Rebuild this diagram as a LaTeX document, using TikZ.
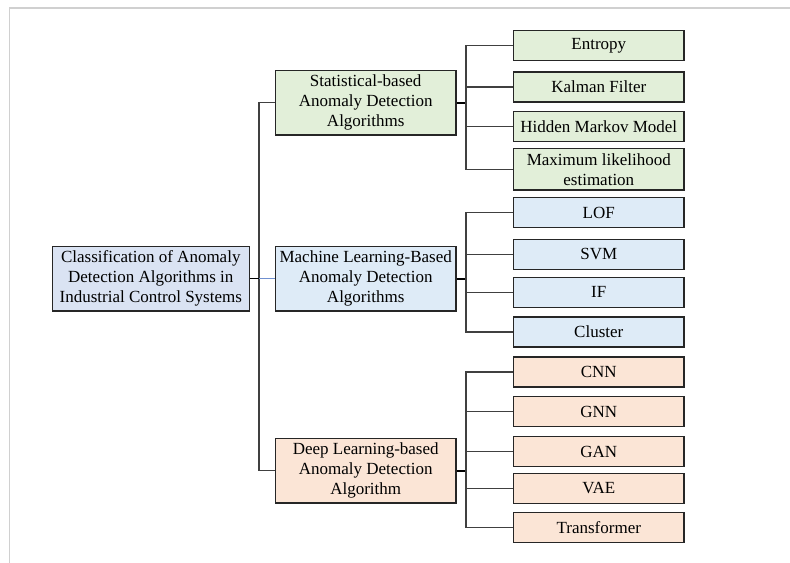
\documentclass[tikz,border=0pt]{standalone}
\usepackage{fontspec}
\setmainfont{Liberation Serif}
\definecolor{statfill}{HTML}{E2EFD9}
\definecolor{mlfill}{HTML}{DEEBF7}
\definecolor{rootfill}{HTML}{DAE3F3}
\definecolor{dlfill}{HTML}{FBE5D6}
\definecolor{edge}{HTML}{404040}
\definecolor{mllink}{HTML}{7090D0}
\definecolor{frame}{HTML}{D0D0D0}
\tikzset{
  box/.style={draw=black!85, line width=0.9pt, align=center, inner sep=0pt,
    font=\fontsize{12.75pt}{15pt}\selectfont},
  rootbox/.style={box, fill=rootfill, minimum width=147.75pt, minimum height=48.2pt},
  midbox/.style={box, minimum width=135.5pt, minimum height=48.2pt},
  leafbox/.style={box, minimum width=127.7pt, minimum height=22.4pt},
  link/.style={draw=edge, line width=0.8pt},
  stub/.style={draw=black, line width=1.3pt},
}
\begin{document}
\begin{tikzpicture}[x=0.75pt,y=-0.75pt]
\useasboundingbox (0,0) rectangle (790,563);
% page frame (top and left edges only)
\draw[frame, line width=1.1pt] (9.5,563) -- (9.5,8) -- (790,8);

% trunk positions
\coordinate (t0) at (259,0);
\coordinate (t1) at (466,0);

% root
\node[rootbox] (root) at (150.8,278.8) {Classification of Anomaly\\Detection Algorithms in\\Industrial Control Systems};

% second level
\node[midbox, fill=statfill] (stat) at (365.7,102.8) {Statistical-based\\Anomaly Detection\\Algorithms};
\node[midbox, fill=mlfill] (ml) at (365.7,278.8) {Machine Learning-Based\\Anomaly Detection\\Algorithms};
\node[midbox, fill=dlfill] (dl) at (365.7,470.8) {Deep Learning-based\\Anomaly Detection\\Algorithm};

% statistical leaves
\node[leafbox, fill=statfill] (s1) at (598.8,45.3) {Entropy};
\node[leafbox, fill=statfill] (s2) at (598.8,87) {Kalman Filter};
\node[leafbox, fill=statfill] (s3) at (598.8,126.7) {Hidden Markov Model};
\node[leafbox, fill=statfill, minimum height=31.3pt] (s4) at (598.8,169.2) {Maximum likelihood\\estimation};

% machine learning leaves
\node[leafbox, fill=mlfill] (m1) at (598.8,212.5) {LOF};
\node[leafbox, fill=mlfill] (m2) at (598.8,254.3) {SVM};
\node[leafbox, fill=mlfill] (m3) at (598.8,292.3) {IF};
\node[leafbox, fill=mlfill] (m4) at (598.8,332) {Cluster};

% deep learning leaves
\node[leafbox, fill=dlfill] (d1) at (598.8,372) {CNN};
\node[leafbox, fill=dlfill] (d2) at (598.8,411.8) {GNN};
\node[leafbox, fill=dlfill] (d3) at (598.8,451.7) {GAN};
\node[leafbox, fill=dlfill] (d4) at (598.8,488.3) {VAE};
\node[leafbox, fill=dlfill] (d5) at (598.8,527.8) {Transformer};

% root to second level
\draw[link] (stat.west) -- (stat.west -| t0) -- (dl.west -| t0) -- (dl.west);
\draw[stub, line width=0.9pt] (root.east) -- (root.east -| t0);
\draw[draw=mllink, line width=0.9pt] (ml.west -| t0) -- (ml.west);

% statistical branch
\draw[stub] (stat.east) -- (stat.east -| t1);
\draw[link] (s1.west) -- (s1.west -| t1) -- (s4.west -| t1) -- (s4.west);
\draw[link] (s2.west) -- (s2.west -| t1);
\draw[link] (s3.west) -- (s3.west -| t1);

% machine learning branch
\draw[stub] (ml.east) -- (ml.east -| t1);
\draw[link] (m1.west) -- (m1.west -| t1) -- (m4.west -| t1) -- (m4.west);
\draw[link] (m2.west) -- (m2.west -| t1);
\draw[link] (m3.west) -- (m3.west -| t1);

% deep learning branch
\draw[stub] (dl.east) -- (dl.east -| t1);
\draw[link] (d1.west) -- (d1.west -| t1) -- (d5.west -| t1) -- (d5.west);
\draw[link] (d2.west) -- (d2.west -| t1);
\draw[link] (d3.west) -- (d3.west -| t1);
\draw[link] (d4.west) -- (d4.west -| t1);
\end{tikzpicture}
\end{document}
